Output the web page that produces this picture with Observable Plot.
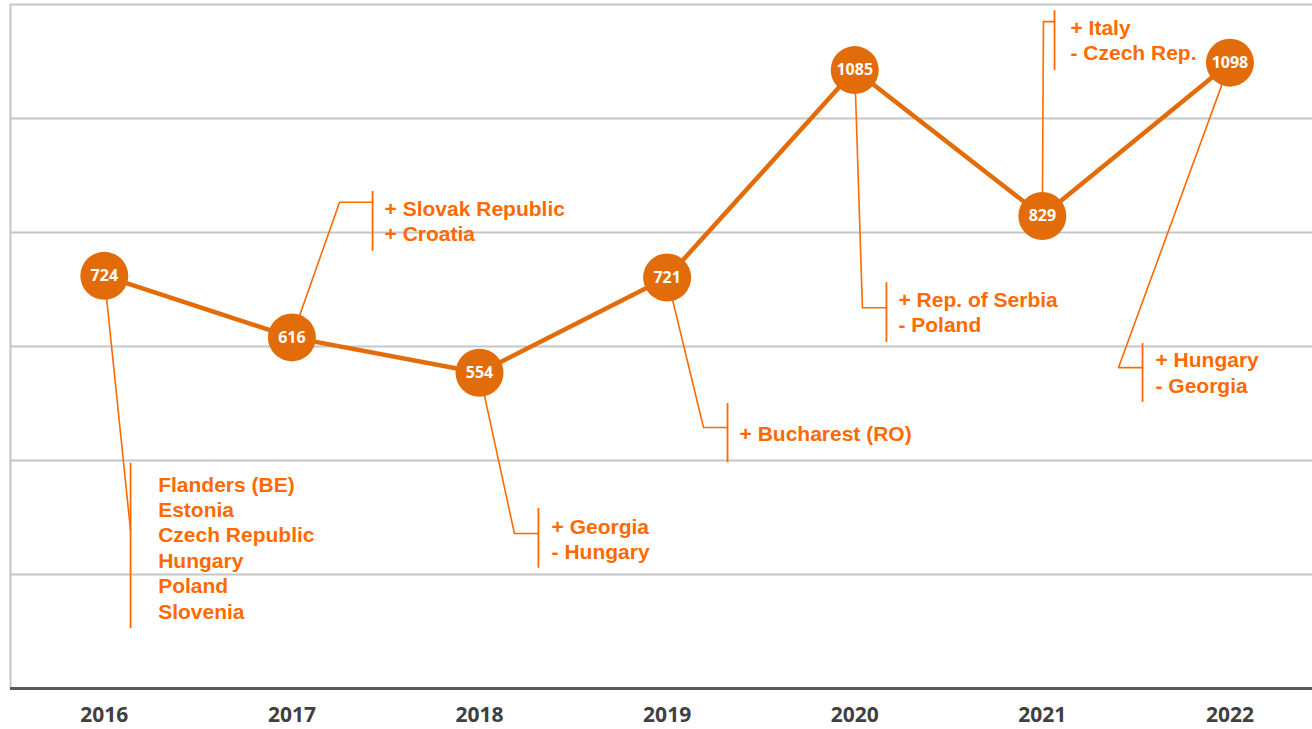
<!DOCTYPE html>
<html>
<head>
<meta charset="utf-8">
<script src="https://cdn.jsdelivr.net/npm/d3@7"></script>
<script src="https://cdn.jsdelivr.net/npm/@observablehq/plot@0.6"></script>
<style>
  html, body { margin: 0; padding: 0; background: #fff; }
  #chart svg { display: block; }
</style>
</head>
<body>
<div id="chart"></div>
<script>
// ---- data ----
const years = [2016, 2017, 2018, 2019, 2020, 2021, 2022];
const values = [724, 616, 554, 721, 1085, 829, 1098];
const gridValues = [200, 400, 600, 800, 1000, 1200];
const notes = [
  "Flanders (BE)\nEstonia\nCzech Republic\nHungary\nPoland\nSlovenia",
  "+ Slovak Republic\n+ Croatia",
  "+ Georgia\n- Hungary",
  "+ Bucharest (RO)",
  "+ Rep. of Serbia\n- Poland",
  "+ Italy\n- Czech Rep.",
  "+ Hungary\n- Georgia"
];

// ---- callout layout (data coordinates) ----
const calloutElbowX = [2016.140, 2017.254, 2018.186, 2019.194, 2020.041, 2021.006, 2021.406];
const calloutElbowY = [277, 853, 272, 458, 668, 1170, 563];
const calloutBarX   = [2016.140, 2017.430, 2018.314, 2019.322, 2020.169, 2021.065, 2021.534];
const calloutBarTop = [395, 872, 316, 500, 712, 1189, 605];
const calloutBarBot = [105, 767, 211, 396, 607, 1084, 502];
const calloutTextX  = [2016.287, 2017.494, 2018.384, 2019.386, 2020.233, 2021.150, 2021.603];
const calloutTextY  = [377, 861, 303, 466, 701, 1178, 595];

const series = years.map((y, i) => ({year: y, value: values[i]}));
const leaders = [];
years.forEach((y, i) => {
  leaders.push({id: i, x: y, y: values[i]});
  leaders.push({id: i, x: calloutElbowX[i], y: calloutElbowY[i]});
  leaders.push({id: i, x: calloutBarX[i], y: calloutElbowY[i]});
});
const bars = years.map((y, i) => ({x: calloutBarX[i], y1: calloutBarBot[i], y2: calloutBarTop[i]}));
const texts = years.map((y, i) => ({x: calloutTextX[i], y: calloutTextY[i], text: notes[i]}));

const lineColor = "#E36C0A";
const noteColor = "#FF6A00";

const chart = Plot.plot({
  width: 1312,
  height: 729,
  marginLeft: 10,
  marginRight: 0,
  marginTop: 4,
  marginBottom: 41,
  style: {fontFamily: "'Open Sans', sans-serif", background: "#fff"},
  x: {domain: [2015.5, 2022.44], axis: null},
  y: {domain: [0, 1200], axis: null},
  marks: [
    Plot.ruleY(gridValues, {stroke: "#c6c6c6", strokeWidth: 2}),
    Plot.ruleX([2015.5], {y1: 0, y2: 1200, stroke: "#c6c6c6", strokeWidth: 2}),
    Plot.ruleY([0], {stroke: "#595959", strokeWidth: 3}),
    Plot.axisX(years, {
      tickSize: 0, tickPadding: 19, tickFormat: d => String(d),
      fontSize: 21, fontWeight: 700, fill: "#404040",
      fontFamily: "'Open Sans', sans-serif"
    }),
    Plot.line(leaders, {x: "x", y: "y", z: "id", stroke: noteColor, strokeWidth: 1.6, curve: "linear"}),
    Plot.ruleX(bars, {x: "x", y1: "y1", y2: "y2", stroke: noteColor, strokeWidth: 1.8}),
    Plot.line(series, {x: "year", y: "value", stroke: lineColor, strokeWidth: 4.5}),
    Plot.dot(series, {x: "year", y: "value", r: 24, fill: lineColor, stroke: "none"}),
    Plot.text(series, {
      x: "year", y: "value", text: d => String(d.value),
      fill: "#fff", fontSize: 16, fontWeight: 700,
      fontFamily: "'Open Sans', sans-serif"
    }),
    Plot.text(texts, {
      x: "x", y: "y", text: "text",
      textAnchor: "start", lineAnchor: "top", lineHeight: 1.21,
      fill: noteColor, fontSize: 21, fontWeight: 700,
      fontFamily: "'Liberation Sans', Arial, sans-serif"
    })
  ]
});
document.getElementById("chart").appendChild(chart);
</script>
</body>
</html>
